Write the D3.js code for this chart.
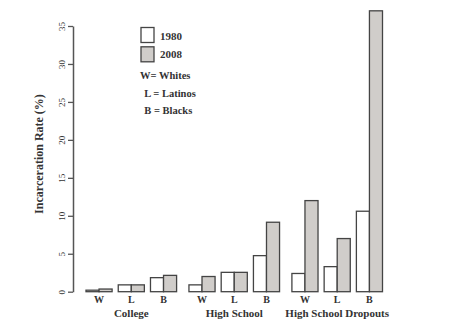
<!DOCTYPE html>
<html><head><meta charset="utf-8">
<script src="https://cdn.jsdelivr.net/npm/d3@7"></script>
<style>body{margin:0;background:#fff}svg{display:block}</style>
</head><body>
<svg id="c" width="460" height="332"></svg>
<script>
const groups = ["College", "High School", "High School Dropouts"];
const races = ["W", "L", "B"];
const years = ["1980", "2008"];
const values1980 = [[0.2, 0.9, 1.85], [0.9, 2.55, 4.75], [2.4, 3.3, 10.6]];
const values2008 = [[0.35, 0.9, 2.15], [2.0, 2.55, 9.15], [12.0, 7.0, 37.0]];
const yTicks = [0, 5, 10, 15, 20, 25, 30, 35];
const legendNotes = ["W= Whites", "L = Latinos", "B = Blacks"];

const svg = d3.select("#c");
const font = "'Liberation Serif', 'DejaVu Serif', serif";
const fills = {"1980": "#ffffff", "2008": "#d0cdca"};

const y = d3.scaleLinear().domain([0, 35]).range([291.7, 26]);
const x0 = d3.scaleBand().domain(groups).range([86, 382.5]).paddingInner(0.12).paddingOuter(0);
const x1 = d3.scaleBand().domain(races).range([0, x0.bandwidth()]).paddingInner(0.19).paddingOuter(0);
const x2 = d3.scaleBand().domain(years).range([0, x1.bandwidth()]).padding(0);

const data = [];
groups.forEach((g, gi) => races.forEach((r, ri) => {
  data.push({g, r, year: "1980", v: values1980[gi][ri]});
  data.push({g, r, year: "2008", v: values2008[gi][ri]});
}));

svg.append("g").selectAll("rect").data(data).join("rect")
  .attr("x", d => x0(d.g) + x1(d.r) + x2(d.year))
  .attr("y", d => y(d.v))
  .attr("width", x2.bandwidth())
  .attr("height", d => y(0) - y(d.v))
  .attr("fill", d => fills[d.year])
  .attr("stroke", "#444")
  .attr("stroke-width", 1.3);

// y axis
const yAxis = d3.axisLeft(y).tickValues(yTicks).tickSize(5).tickSizeOuter(0);
const ag = svg.append("g").attr("transform", "translate(73,0)").call(yAxis);
ag.select(".domain").attr("stroke", "#555").attr("stroke-width", 1.5);
ag.selectAll(".tick line").attr("stroke", "#555").attr("stroke-width", 1.3);
ag.selectAll(".tick text")
  .attr("font-family", font).attr("font-size", 9).attr("fill", "#333")
  .attr("transform", "rotate(-90)")
  .attr("x", 0).attr("dy", 0)
  .attr("y", -8)
  .attr("text-anchor", "middle");

svg.append("text")
  .attr("transform", "translate(43,154) rotate(-90)")
  .attr("text-anchor", "middle")
  .attr("font-family", font).attr("font-weight", "bold").attr("font-size", 12).attr("fill", "#333")
  .text("Incarceration Rate (%)");

// x labels
const lab = svg.append("g");
groups.forEach(g => races.forEach(r => {
  lab.append("text")
    .attr("x", x0(g) + x1(r) + x1.bandwidth() / 2)
    .attr("y", 303)
    .attr("text-anchor", "middle")
    .attr("font-family", font).attr("font-weight", "bold").attr("font-size", 10).attr("fill", "#333")
    .text(r);
}));
groups.forEach(g => {
  lab.append("text")
    .attr("x", x0(g) + x0.bandwidth() / 2)
    .attr("y", 317)
    .attr("text-anchor", "middle")
    .attr("font-family", font).attr("font-weight", "bold").attr("font-size", 11).attr("fill", "#333")
    .text(g);
});

// legend
const lg = svg.append("g");
years.forEach((yr, i) => {
  lg.append("rect").attr("x", 141).attr("y", 27.5 + i * 19.3).attr("width", 13).attr("height", 15)
    .attr("fill", fills[yr]).attr("stroke", "#444").attr("stroke-width", 1.3);
  lg.append("text").attr("x", 160).attr("y", 39.5 + i * 18.6)
    .attr("font-family", font).attr("font-weight", "bold").attr("font-size", 11).attr("fill", "#333")
    .text(yr);
});
const noteX = [140, 144.3, 144.3];
const noteY = [79, 97.3, 114];
legendNotes.forEach((t, i) => {
  lg.append("text").attr("x", noteX[i]).attr("y", noteY[i])
    .attr("font-family", font).attr("font-weight", "bold").attr("font-size", 10.5).attr("fill", "#333")
    .text(t);
});
</script>
</body></html>
